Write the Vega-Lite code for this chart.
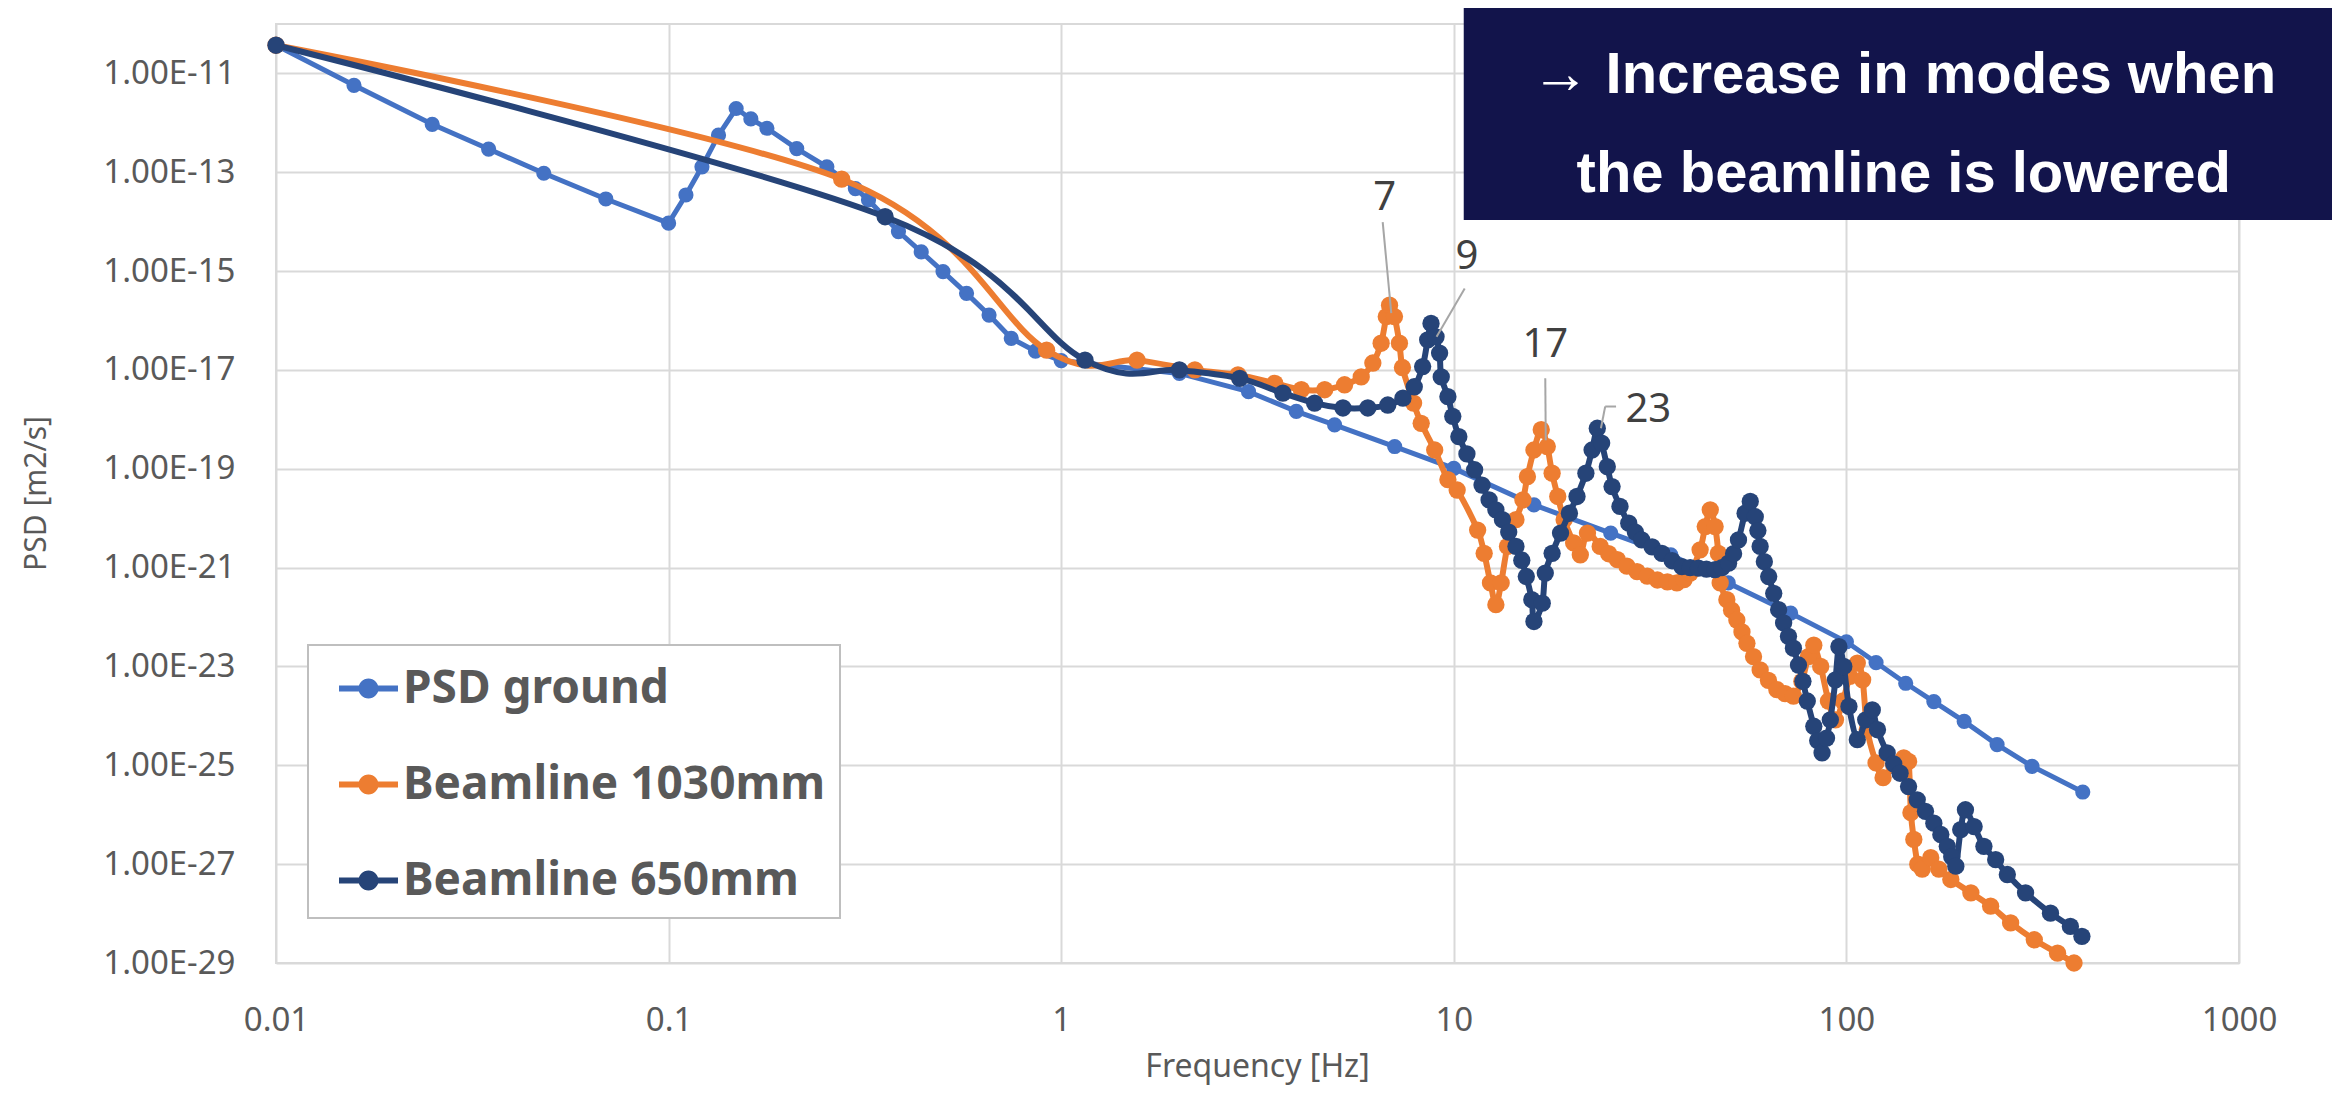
{
"$schema": "https://vega.github.io/schema/vega-lite/v6.json",
"width": 1963, "height": 939,
"autosize": {"type": "none"},
"padding": {"left": 276, "top": 24, "right": 93, "bottom": 132},
"background": "white",
"config": {"view": {"stroke": "#D9D9D9", "strokeWidth": 2}, "font": "Noto Sans"},
"datasets": {
"psd": [
{"series":"PSD ground","f":0.01,"psd":3.72e-11},
{"series":"PSD ground","f":0.0158,"psd":5.75e-12},
{"series":"PSD ground","f":0.025,"psd":9.33e-13},
{"series":"PSD ground","f":0.0348,"psd":2.95e-13},
{"series":"PSD ground","f":0.0481,"psd":9.55e-14},
{"series":"PSD ground","f":0.0692,"psd":2.88e-14},
{"series":"PSD ground","f":0.1,"psd":9.33e-15},
{"series":"PSD ground","f":0.1107,"psd":3.47e-14},
{"series":"PSD ground","f":0.1216,"psd":1.29e-13},
{"series":"PSD ground","f":0.134,"psd":5.62e-13},
{"series":"PSD ground","f":0.1486,"psd":1.95e-12},
{"series":"PSD ground","f":0.162,"psd":1.2e-12},
{"series":"PSD ground","f":0.178,"psd":7.76e-13},
{"series":"PSD ground","f":0.212,"psd":3.02e-13},
{"series":"PSD ground","f":0.253,"psd":1.29e-13},
{"series":"PSD ground","f":0.299,"psd":4.68e-14},
{"series":"PSD ground","f":0.323,"psd":2.75e-14},
{"series":"PSD ground","f":0.385,"psd":6.31e-15},
{"series":"PSD ground","f":0.44,"psd":2.45e-15},
{"series":"PSD ground","f":0.5,"psd":9.77e-16},
{"series":"PSD ground","f":0.574,"psd":3.55e-16},
{"series":"PSD ground","f":0.655,"psd":1.29e-16},
{"series":"PSD ground","f":0.746,"psd":4.37e-17},
{"series":"PSD ground","f":0.86,"psd":2.4e-17},
{"series":"PSD ground","f":1.0,"psd":1.55e-17},
{"series":"PSD ground","f":2.0,"psd":8.51e-18},
{"series":"PSD ground","f":3.0,"psd":3.63e-18},
{"series":"PSD ground","f":3.97,"psd":1.45e-18},
{"series":"PSD ground","f":4.97,"psd":7.76e-19},
{"series":"PSD ground","f":7.07,"psd":2.82e-19},
{"series":"PSD ground","f":10,"psd":1.02e-19},
{"series":"PSD ground","f":16,"psd":1.86e-20},
{"series":"PSD ground","f":25.1,"psd":5.01e-21},
{"series":"PSD ground","f":35.7,"psd":1.82e-21},
{"series":"PSD ground","f":50,"psd":4.9e-22},
{"series":"PSD ground","f":72.1,"psd":1.2e-22},
{"series":"PSD ground","f":100,"psd":3.16e-23},
{"series":"PSD ground","f":119,"psd":1.2e-23},
{"series":"PSD ground","f":141.6,"psd":4.57e-24},
{"series":"PSD ground","f":167,"psd":1.95e-24},
{"series":"PSD ground","f":199.5,"psd":7.76e-25},
{"series":"PSD ground","f":242,"psd":2.63e-25},
{"series":"PSD ground","f":297,"psd":9.55e-26},
{"series":"PSD ground","f":400,"psd":2.88e-26},
{"series":"Beamline 1030mm","f":0.01,"psd":3.72e-11},
{"series":"Beamline 1030mm","f":0.276,"psd":7.24e-14},
{"series":"Beamline 1030mm","f":0.918,"psd":2.51e-17},
{"series":"Beamline 1030mm","f":1.56,"psd":1.58e-17},
{"series":"Beamline 1030mm","f":2.19,"psd":1.0e-17},
{"series":"Beamline 1030mm","f":2.82,"psd":7.94e-18},
{"series":"Beamline 1030mm","f":3.5,"psd":5.37e-18},
{"series":"Beamline 1030mm","f":4.09,"psd":3.98e-18},
{"series":"Beamline 1030mm","f":4.69,"psd":3.98e-18},
{"series":"Beamline 1030mm","f":5.27,"psd":5.01e-18},
{"series":"Beamline 1030mm","f":5.81,"psd":7.24e-18},
{"series":"Beamline 1030mm","f":6.22,"psd":1.38e-17},
{"series":"Beamline 1030mm","f":6.53,"psd":3.47e-17},
{"series":"Beamline 1030mm","f":6.73,"psd":1.2e-16},
{"series":"Beamline 1030mm","f":6.86,"psd":2.04e-16},
{"series":"Beamline 1030mm","f":7.06,"psd":1.2e-16},
{"series":"Beamline 1030mm","f":7.27,"psd":3.47e-17},
{"series":"Beamline 1030mm","f":7.4,"psd":1.12e-17},
{"series":"Beamline 1030mm","f":7.9,"psd":2.14e-18},
{"series":"Beamline 1030mm","f":8.26,"psd":8.32e-19},
{"series":"Beamline 1030mm","f":8.94,"psd":2.4e-19},
{"series":"Beamline 1030mm","f":9.66,"psd":6.03e-20},
{"series":"Beamline 1030mm","f":10.2,"psd":3.72e-20},
{"series":"Beamline 1030mm","f":11.5,"psd":5.75e-21},
{"series":"Beamline 1030mm","f":11.95,"psd":1.95e-21},
{"series":"Beamline 1030mm","f":12.4,"psd":4.9e-22},
{"series":"Beamline 1030mm","f":12.8,"psd":1.78e-22},
{"series":"Beamline 1030mm","f":13.2,"psd":4.9e-22},
{"series":"Beamline 1030mm","f":13.7,"psd":2.69e-21},
{"series":"Beamline 1030mm","f":14.4,"psd":9.33e-21},
{"series":"Beamline 1030mm","f":15.0,"psd":2.34e-20},
{"series":"Beamline 1030mm","f":15.4,"psd":6.92e-20},
{"series":"Beamline 1030mm","f":16.0,"psd":2.4e-19},
{"series":"Beamline 1030mm","f":16.7,"psd":6.17e-19},
{"series":"Beamline 1030mm","f":17.3,"psd":2.82e-19},
{"series":"Beamline 1030mm","f":17.8,"psd":8.13e-20},
{"series":"Beamline 1030mm","f":18.4,"psd":2.75e-20},
{"series":"Beamline 1030mm","f":19.1,"psd":9.33e-21},
{"series":"Beamline 1030mm","f":20.2,"psd":3.16e-21},
{"series":"Beamline 1030mm","f":21.0,"psd":1.82e-21},
{"series":"Beamline 1030mm","f":21.9,"psd":5.01e-21},
{"series":"Beamline 1030mm","f":23.6,"psd":2.69e-21},
{"series":"Beamline 1030mm","f":24.8,"psd":1.91e-21},
{"series":"Beamline 1030mm","f":26.1,"psd":1.45e-21},
{"series":"Beamline 1030mm","f":27.6,"psd":1.07e-21},
{"series":"Beamline 1030mm","f":29.3,"psd":8.32e-22},
{"series":"Beamline 1030mm","f":31.1,"psd":6.76e-22},
{"series":"Beamline 1030mm","f":33,"psd":5.62e-22},
{"series":"Beamline 1030mm","f":35,"psd":5.13e-22},
{"series":"Beamline 1030mm","f":37,"psd":4.9e-22},
{"series":"Beamline 1030mm","f":38.6,"psd":5.75e-22},
{"series":"Beamline 1030mm","f":40,"psd":7.76e-22},
{"series":"Beamline 1030mm","f":42.4,"psd":2.29e-21},
{"series":"Beamline 1030mm","f":43.7,"psd":6.76e-21},
{"series":"Beamline 1030mm","f":45,"psd":1.48e-20},
{"series":"Beamline 1030mm","f":46.3,"psd":6.76e-21},
{"series":"Beamline 1030mm","f":47.2,"psd":1.95e-21},
{"series":"Beamline 1030mm","f":47.7,"psd":4.9e-22},
{"series":"Beamline 1030mm","f":49.6,"psd":2.24e-22},
{"series":"Beamline 1030mm","f":51,"psd":1.38e-22},
{"series":"Beamline 1030mm","f":52.6,"psd":8.71e-23},
{"series":"Beamline 1030mm","f":54.2,"psd":5.01e-23},
{"series":"Beamline 1030mm","f":55.8,"psd":2.95e-23},
{"series":"Beamline 1030mm","f":58,"psd":1.58e-23},
{"series":"Beamline 1030mm","f":60.3,"psd":8.51e-24},
{"series":"Beamline 1030mm","f":63.3,"psd":5.25e-24},
{"series":"Beamline 1030mm","f":66.5,"psd":3.39e-24},
{"series":"Beamline 1030mm","f":69.8,"psd":2.82e-24},
{"series":"Beamline 1030mm","f":73.3,"psd":2.51e-24},
{"series":"Beamline 1030mm","f":77,"psd":5.01e-24},
{"series":"Beamline 1030mm","f":80,"psd":1.58e-23},
{"series":"Beamline 1030mm","f":82.6,"psd":2.69e-23},
{"series":"Beamline 1030mm","f":86,"psd":1.0e-23},
{"series":"Beamline 1030mm","f":90,"psd":2.0e-24},
{"series":"Beamline 1030mm","f":93.8,"psd":8.32e-25},
{"series":"Beamline 1030mm","f":98,"psd":2.0e-24},
{"series":"Beamline 1030mm","f":102,"psd":6.31e-24},
{"series":"Beamline 1030mm","f":106.6,"psd":1.17e-23},
{"series":"Beamline 1030mm","f":110,"psd":5.37e-24},
{"series":"Beamline 1030mm","f":113,"psd":5.25e-25},
{"series":"Beamline 1030mm","f":119,"psd":1.12e-25},
{"series":"Beamline 1030mm","f":124,"psd":5.62e-26},
{"series":"Beamline 1030mm","f":132,"psd":1.0e-25},
{"series":"Beamline 1030mm","f":140,"psd":1.41e-25},
{"series":"Beamline 1030mm","f":144,"psd":1.2e-25},
{"series":"Beamline 1030mm","f":146,"psd":1.1e-26},
{"series":"Beamline 1030mm","f":148.5,"psd":3.16e-27},
{"series":"Beamline 1030mm","f":152,"psd":1.0e-27},
{"series":"Beamline 1030mm","f":156,"psd":7.94e-28},
{"series":"Beamline 1030mm","f":164,"psd":1.35e-27},
{"series":"Beamline 1030mm","f":172,"psd":7.94e-28},
{"series":"Beamline 1030mm","f":184.5,"psd":4.9e-28},
{"series":"Beamline 1030mm","f":207.5,"psd":2.63e-28},
{"series":"Beamline 1030mm","f":233,"psd":1.41e-28},
{"series":"Beamline 1030mm","f":262,"psd":6.46e-29},
{"series":"Beamline 1030mm","f":301,"psd":2.95e-29},
{"series":"Beamline 1030mm","f":345,"psd":1.58e-29},
{"series":"Beamline 1030mm","f":380,"psd":1.0e-29},
{"series":"Beamline 650mm","f":0.01,"psd":3.72e-11},
{"series":"Beamline 650mm","f":0.356,"psd":1.26e-14},
{"series":"Beamline 650mm","f":1.15,"psd":1.58e-17},
{"series":"Beamline 650mm","f":2.0,"psd":1.0e-17},
{"series":"Beamline 650mm","f":2.85,"psd":6.76e-18},
{"series":"Beamline 650mm","f":3.67,"psd":3.39e-18},
{"series":"Beamline 650mm","f":4.42,"psd":2.14e-18},
{"series":"Beamline 650mm","f":5.22,"psd":1.7e-18},
{"series":"Beamline 650mm","f":6.04,"psd":1.7e-18},
{"series":"Beamline 650mm","f":6.79,"psd":1.95e-18},
{"series":"Beamline 650mm","f":7.42,"psd":2.69e-18},
{"series":"Beamline 650mm","f":7.93,"psd":4.57e-18},
{"series":"Beamline 650mm","f":8.33,"psd":1.17e-17},
{"series":"Beamline 650mm","f":8.58,"psd":4.07e-17},
{"series":"Beamline 650mm","f":8.75,"psd":8.71e-17},
{"series":"Beamline 650mm","f":9.01,"psd":4.68e-17},
{"series":"Beamline 650mm","f":9.2,"psd":2.19e-17},
{"series":"Beamline 650mm","f":9.29,"psd":7.24e-18},
{"series":"Beamline 650mm","f":9.66,"psd":2.88e-18},
{"series":"Beamline 650mm","f":9.94,"psd":1.15e-18},
{"series":"Beamline 650mm","f":10.3,"psd":4.47e-19},
{"series":"Beamline 650mm","f":10.8,"psd":2.0e-19},
{"series":"Beamline 650mm","f":11.3,"psd":9.55e-20},
{"series":"Beamline 650mm","f":11.8,"psd":4.68e-20},
{"series":"Beamline 650mm","f":12.3,"psd":2.34e-20},
{"series":"Beamline 650mm","f":12.8,"psd":1.48e-20},
{"series":"Beamline 650mm","f":13.3,"psd":9.33e-21},
{"series":"Beamline 650mm","f":13.8,"psd":5.25e-21},
{"series":"Beamline 650mm","f":14.4,"psd":2.69e-21},
{"series":"Beamline 650mm","f":14.9,"psd":1.41e-21},
{"series":"Beamline 650mm","f":15.3,"psd":6.61e-22},
{"series":"Beamline 650mm","f":15.8,"psd":2.24e-22},
{"series":"Beamline 650mm","f":16.0,"psd":8.13e-23},
{"series":"Beamline 650mm","f":16.8,"psd":1.91e-22},
{"series":"Beamline 650mm","f":17.1,"psd":7.76e-22},
{"series":"Beamline 650mm","f":17.8,"psd":1.95e-21},
{"series":"Beamline 650mm","f":18.7,"psd":5.01e-21},
{"series":"Beamline 650mm","f":19.7,"psd":1.26e-20},
{"series":"Beamline 650mm","f":20.6,"psd":2.75e-20},
{"series":"Beamline 650mm","f":21.7,"psd":8.13e-20},
{"series":"Beamline 650mm","f":22.5,"psd":2.4e-19},
{"series":"Beamline 650mm","f":23.2,"psd":6.61e-19},
{"series":"Beamline 650mm","f":23.8,"psd":3.31e-19},
{"series":"Beamline 650mm","f":24.6,"psd":1.1e-19},
{"series":"Beamline 650mm","f":25.3,"psd":4.37e-20},
{"series":"Beamline 650mm","f":26.5,"psd":1.74e-20},
{"series":"Beamline 650mm","f":27.9,"psd":7.94e-21},
{"series":"Beamline 650mm","f":29,"psd":5.25e-21},
{"series":"Beamline 650mm","f":30.1,"psd":3.63e-21},
{"series":"Beamline 650mm","f":32,"psd":2.63e-21},
{"series":"Beamline 650mm","f":33.9,"psd":1.95e-21},
{"series":"Beamline 650mm","f":36,"psd":1.38e-21},
{"series":"Beamline 650mm","f":38.1,"psd":1.05e-21},
{"series":"Beamline 650mm","f":40,"psd":1.0e-21},
{"series":"Beamline 650mm","f":42.0,"psd":9.77e-22},
{"series":"Beamline 650mm","f":44,"psd":9.33e-22},
{"series":"Beamline 650mm","f":46.3,"psd":9.12e-22},
{"series":"Beamline 650mm","f":48.2,"psd":1.0e-21},
{"series":"Beamline 650mm","f":50.1,"psd":1.23e-21},
{"series":"Beamline 650mm","f":51.6,"psd":1.91e-21},
{"series":"Beamline 650mm","f":53.1,"psd":3.63e-21},
{"series":"Beamline 650mm","f":55.2,"psd":1.26e-20},
{"series":"Beamline 650mm","f":56.9,"psd":2.19e-20},
{"series":"Beamline 650mm","f":58.6,"psd":1.07e-20},
{"series":"Beamline 650mm","f":59.5,"psd":5.62e-21},
{"series":"Beamline 650mm","f":60.3,"psd":2.69e-21},
{"series":"Beamline 650mm","f":61.8,"psd":1.32e-21},
{"series":"Beamline 650mm","f":63.4,"psd":6.61e-22},
{"series":"Beamline 650mm","f":65.3,"psd":3.02e-22},
{"series":"Beamline 650mm","f":67.2,"psd":1.41e-22},
{"series":"Beamline 650mm","f":69.2,"psd":7.59e-23},
{"series":"Beamline 650mm","f":71.2,"psd":4.07e-23},
{"series":"Beamline 650mm","f":73.3,"psd":2.34e-23},
{"series":"Beamline 650mm","f":75.5,"psd":1.07e-23},
{"series":"Beamline 650mm","f":77.5,"psd":5.01e-24},
{"series":"Beamline 650mm","f":79.5,"psd":2.0e-24},
{"series":"Beamline 650mm","f":82.6,"psd":6.17e-25},
{"series":"Beamline 650mm","f":84.5,"psd":3.16e-25},
{"series":"Beamline 650mm","f":86.7,"psd":1.78e-25},
{"series":"Beamline 650mm","f":89,"psd":3.55e-25},
{"series":"Beamline 650mm","f":91,"psd":8.32e-25},
{"series":"Beamline 650mm","f":93.8,"psd":5.37e-24},
{"series":"Beamline 650mm","f":95.7,"psd":2.51e-23},
{"series":"Beamline 650mm","f":98.5,"psd":1.0e-23},
{"series":"Beamline 650mm","f":101.5,"psd":1.55e-24},
{"series":"Beamline 650mm","f":106.6,"psd":3.31e-25},
{"series":"Beamline 650mm","f":112,"psd":8.32e-25},
{"series":"Beamline 650mm","f":116.4,"psd":1.32e-24},
{"series":"Beamline 650mm","f":120,"psd":5.25e-25},
{"series":"Beamline 650mm","f":127,"psd":1.78e-25},
{"series":"Beamline 650mm","f":132,"psd":1.07e-25},
{"series":"Beamline 650mm","f":137,"psd":6.92e-26},
{"series":"Beamline 650mm","f":144,"psd":3.72e-26},
{"series":"Beamline 650mm","f":151.5,"psd":2.0e-26},
{"series":"Beamline 650mm","f":159,"psd":1.17e-26},
{"series":"Beamline 650mm","f":167,"psd":6.76e-27},
{"series":"Beamline 650mm","f":174,"psd":3.98e-27},
{"series":"Beamline 650mm","f":180.7,"psd":2.29e-27},
{"series":"Beamline 650mm","f":185.5,"psd":1.41e-27},
{"series":"Beamline 650mm","f":190,"psd":9.12e-28},
{"series":"Beamline 650mm","f":195.5,"psd":5.01e-27},
{"series":"Beamline 650mm","f":201,"psd":1.26e-26},
{"series":"Beamline 650mm","f":211.5,"psd":5.75e-27},
{"series":"Beamline 650mm","f":224,"psd":2.29e-27},
{"series":"Beamline 650mm","f":240,"psd":1.23e-27},
{"series":"Beamline 650mm","f":257,"psd":6.17e-28},
{"series":"Beamline 650mm","f":286,"psd":2.63e-28},
{"series":"Beamline 650mm","f":331,"psd":1.02e-28},
{"series":"Beamline 650mm","f":372,"psd":5.5e-29},
{"series":"Beamline 650mm","f":398,"psd":3.47e-29}
],
"peaks": [
{"f":6.67,"psd":3.0e-14,"label":"7"},
{"f":10.8,"psd":1.94e-15,"label":"9"},
{"f":17.1,"psd":3.16e-17,"label":"17"},
{"f":31.3,"psd":1.55e-18,"label":"23"}
],
"leaders": [
{"f":6.59,"psd":9.8e-15,"f2":6.93,"psd2":1.41e-16},
{"f":10.66,"psd":4.47e-16,"f2":9.04,"psd2":4.68e-17},
{"f":17.1,"psd":6.76e-18,"f2":17.15,"psd2":3.8e-19},
{"f":25.9,"psd":1.82e-18,"f2":24.3,"psd2":1.82e-18},
{"f":24.3,"psd":1.82e-18,"f2":23.7,"psd2":6.61e-19}
],
"box": [
{"f":10.6,"f2":2000,"psd":1.08e-14,"psd2":2.1e-10}
],
"boxtext": [
{"f":140,"psd":4.0e-12,"label":"→ Increase in modes when"},
{"f":140,"psd":4.0e-14,"label":"the beamline is lowered"}
]
},
"encoding": {
"x": {"field": "f", "type": "quantitative",
"scale": {"type": "log", "domain": [0.01, 1000], "nice": false},
"axis": {"values": [0.01, 0.1, 1, 10, 100, 1000],
"labelExpr": "datum.value < 0.05 ? '0.01' : (datum.value < 0.5 ? '0.1' : format(datum.value, 'd'))",
"title": "Frequency [Hz]", "grid": true, "gridColor": "#D9D9D9", "gridWidth": 2,
"domain": false, "ticks": false, "tickSize": 0, "labelPadding": 41,
"labelFont": "Noto Sans", "labelFontSize": 33, "labelColor": "#595959",
"labelFlush": false, "labelOverlap": false,
"titleFont": "Noto Sans", "titleFontSize": 32, "titleFontWeight": "normal", "titleColor": "#595959",
"titleX": 981, "titleY": 103, "titleBaseline": "middle", "titleAlign": "center"}},
"y": {"field": "psd", "type": "quantitative",
"scale": {"type": "log", "domain": [1e-29, 1e-10], "nice": false},
"axis": {"values": [1e-29, 1e-27, 1e-25, 1e-23, 1e-21, 1e-19, 1e-17, 1e-15, 1e-13, 1e-11],
"labelExpr": "'1.00E-' + format(round(-log(datum.value) / LN10), 'd')",
"title": "PSD [m2/s]", "grid": true, "gridColor": "#D9D9D9", "gridWidth": 2,
"domain": false, "ticks": false, "tickSize": 0, "labelPadding": 41,
"labelFont": "Noto Sans", "labelFontSize": 33, "labelColor": "#595959",
"labelFlush": false, "labelOverlap": false,
"titleFont": "Noto Sans", "titleFontSize": 30, "titleFontWeight": "normal", "titleColor": "#595959",
"titleX": -240, "titleY": 469, "titleAngle": 270, "titleBaseline": "middle", "titleAlign": "center"}}
},
"layer": [
{
"data": {"name": "psd"},
"transform": [{"filter": "datum.series === 'PSD ground'"}],
"mark": {"type": "line", "strokeWidth": 5, "interpolate": "linear"},
"encoding": {
"color": {"field": "series", "type": "nominal",
"scale": {"domain": ["PSD ground", "Beamline 1030mm", "Beamline 650mm"], "range": ["#4472C4", "#ED7D31", "#264478"]},
"legend": {"title": null, "orient": "none", "legendX": 32, "legendY": 621,
"symbolType": "M-1,-0.1H1V0.1H-1ZM0.34,0A0.34,0.34,0,1,1,-0.34,0A0.34,0.34,0,1,1,0.34,0Z",
"symbolSize": 3481, "symbolStrokeWidth": 0, "symbolOffset": 17,
"labelFont": "Noto Sans", "labelFontSize": 46, "labelFontWeight": "bold", "labelColor": "#595959", "labelOffset": 5, "labelLimit": 1000,
"rowPadding": 43, "padding": 14, "strokeColor": "#BFBFBF", "fillColor": "white",
"encode": {"symbols": {"update": {"fill": {"scale": "color", "field": "value"}, "stroke": {"value": "transparent"}, "opacity": {"value": 1}}},
"legend": {"update": {"strokeWidth": {"value": 2}}}}}}
}
},
{
"data": {"name": "psd"},
"transform": [{"filter": "datum.series === 'PSD ground'"}],
"mark": {"type": "point", "filled": true, "opacity": 1, "size": 230},
"encoding": {"color": {"field": "series", "type": "nominal", "legend": null}}
},
{
"data": {"name": "psd"},
"transform": [{"filter": "datum.series === 'Beamline 1030mm'"}],
"mark": {"type": "line", "strokeWidth": 6, "interpolate": "cardinal", "tension": 0},
"encoding": {"color": {"field": "series", "type": "nominal", "legend": null}}
},
{
"data": {"name": "psd"},
"transform": [{"filter": "datum.series === 'Beamline 1030mm'"}],
"mark": {"type": "point", "filled": true, "opacity": 1, "size": 300},
"encoding": {"color": {"field": "series", "type": "nominal", "legend": null}}
},
{
"data": {"name": "psd"},
"transform": [{"filter": "datum.series === 'Beamline 650mm'"}],
"mark": {"type": "line", "strokeWidth": 6, "interpolate": "cardinal", "tension": 0},
"encoding": {"color": {"field": "series", "type": "nominal", "legend": null}}
},
{
"data": {"name": "psd"},
"transform": [{"filter": "datum.series === 'Beamline 650mm'"}],
"mark": {"type": "point", "filled": true, "opacity": 1, "size": 300},
"encoding": {"color": {"field": "series", "type": "nominal", "legend": null}}
},
{
"data": {"name": "leaders"},
"mark": {"type": "rule", "color": "#A6A6A6", "strokeWidth": 2},
"encoding": {"x2": {"field": "f2"}, "y2": {"field": "psd2"}}
},
{
"data": {"name": "peaks"},
"mark": {"type": "text", "font": "Noto Sans", "fontSize": 40, "color": "#404040", "align": "center", "baseline": "middle"},
"encoding": {"text": {"field": "label"}}
},
{
"data": {"name": "box"},
"mark": {"type": "rect", "color": "#12144B"},
"encoding": {"x2": {"field": "f2"}, "y2": {"field": "psd2"}}
},
{
"data": {"name": "boxtext"},
"mark": {"type": "text", "font": "Liberation Sans", "fontWeight": "bold", "fontSize": 58, "color": "white", "align": "center", "baseline": "alphabetic"},
"encoding": {"text": {"field": "label"}}
}
]
}
